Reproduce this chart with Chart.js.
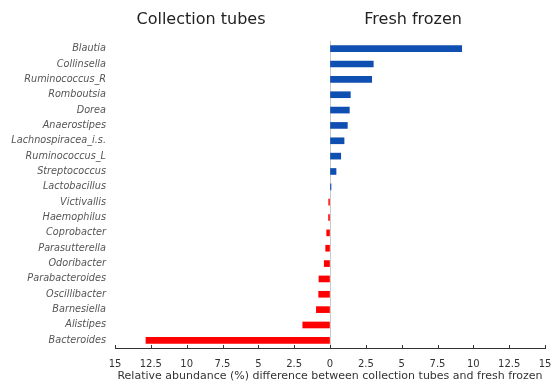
<!DOCTYPE html>
<html>
<head>
<meta charset="utf-8">
<script src="https://cdn.jsdelivr.net/npm/chart.js@4"></script>
<style>
    html, body { margin: 0; padding: 0; background: #fff; }
    #wrap { width: 551px; height: 384px; }
</style>
</head>
<body>
<div id="wrap"><canvas id="diffChart" width="551" height="384"></canvas></div>
<script>
// Genera, top to bottom
const genera = [
    'Blautia', 'Collinsella', 'Ruminococcus_R', 'Romboutsia', 'Dorea',
    'Anaerostipes', 'Lachnospiracea_i.s.', 'Ruminococcus_L', 'Streptococcus', 'Lactobacillus',
    'Victivallis', 'Haemophilus', 'Coprobacter', 'Parasutterella', 'Odoribacter',
    'Parabacteroides', 'Oscillibacter', 'Barnesiella', 'Alistipes', 'Bacteroides'
];

// Difference in relative abundance (%), positive = higher in fresh frozen
const diffValues = [
    9.19, 3.02, 2.91, 1.42, 1.35,
    1.21, 0.98, 0.75, 0.42, 0.07,
    -0.09, -0.1, -0.23, -0.3, -0.4,
    -0.77, -0.79, -0.95, -1.9, -12.84
];

const xTicks = [-15, -12.5, -10, -7.5, -5, -2.5, 0, 2.5, 5, 7.5, 10, 12.5, 15];
const groupTitles = ['Collection tubes', 'Fresh frozen'];

const blue = '#0f4fb2';
const red = '#ff0000';

// group headings above each side + small upward tick marks on the x axis
const decorPlugin = {
    id: 'decor',
    afterDraw(chart) {
        const ctx = chart.ctx;
        const x = chart.scales.x;
        ctx.save();
        ctx.strokeStyle = '#333';
        ctx.lineWidth = 1;
        xTicks.forEach(v => {
            const px = Math.round(x.getPixelForValue(v)) + 0.5;
            ctx.beginPath();
            ctx.moveTo(px, x.top);
            ctx.lineTo(px, x.top - 3);
            ctx.stroke();
        });
        ctx.fillStyle = '#222';
        ctx.font = '16px "DejaVu Sans"';
        ctx.textAlign = 'center';
        ctx.textBaseline = 'middle';
        ctx.fillText(groupTitles[0], x.getPixelForValue(-9), 20);
        ctx.fillText(groupTitles[1], x.getPixelForValue(5.8), 20);
        ctx.restore();
    }
};

new Chart(document.getElementById('diffChart'), {
    type: 'bar',
    data: {
        labels: genera,
        datasets: [{
            data: diffValues,
            backgroundColor: diffValues.map(v => v >= 0 ? blue : red),
            barThickness: 6,
            borderWidth: 0
        }]
    },
    options: {
        indexAxis: 'y',
        responsive: false,
        animation: false,
        layout: { padding: { top: 41, right: 6, left: 0, bottom: 0 } },
        plugins: {
            legend: { display: false },
            tooltip: { enabled: false }
        },
        scales: {
            x: {
                min: -15,
                max: 15,
                afterBuildTicks: scale => {
                    scale.ticks = xTicks.map(v => ({ value: v }));
                },
                afterFit: scale => {
                    scale.height = 36;
                    scale.paddingLeft = 0;
                    scale.paddingRight = 0;
                },
                grid: {
                    drawTicks: false,
                    color: c => (c.tick && c.tick.value === 0) ? '#c8c8c8' : 'rgba(0,0,0,0)'
                },
                border: { display: true, color: '#333' },
                ticks: {
                    padding: 10,
                    color: '#333',
                    font: { family: 'DejaVu Sans', size: 10 },
                    callback: v => String(Math.abs(v))
                },
                title: {
                    display: true,
                    text: 'Relative abundance (%) difference between collection tubes and fresh frozen',
                    color: '#333',
                    font: { family: 'DejaVu Sans', size: 11 },
                    padding: { top: 0, bottom: 1 }
                }
            },
            y: {
                afterFit: scale => { scale.width = 115; },
                grid: { display: false, drawTicks: false },
                border: { display: false },
                ticks: {
                    padding: 9,
                    color: '#555',
                    autoSkip: false,
                    font: { family: 'DejaVu Sans', size: 9.7, style: 'italic' }
                }
            }
        }
    },
    plugins: [decorPlugin]
});
</script>
</body>
</html>
